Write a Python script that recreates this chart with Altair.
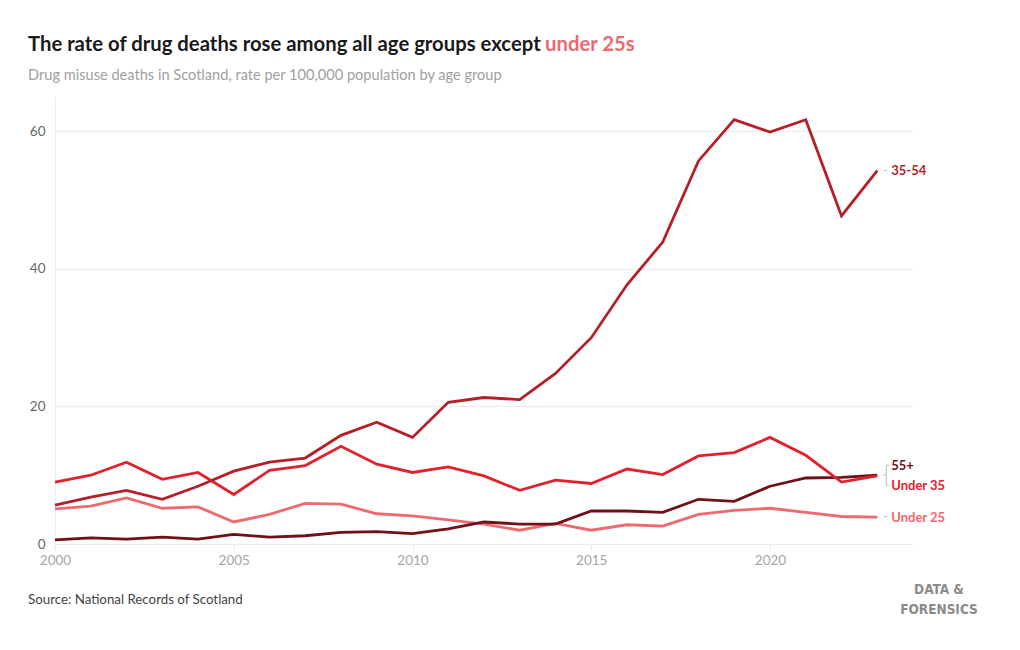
import altair as alt
import pandas as pd

years = list(range(2000, 2024))
age_35_54 = [5.65, 6.8, 7.8, 6.5, 8.4, 10.6, 11.9, 12.5, 15.8, 17.7, 15.5, 20.6,
             21.3, 21.0, 24.8, 30.0, 37.7, 43.9, 55.7, 61.7, 59.9, 61.7, 47.7, 54.3]
under_35 = [9.0, 10.0, 11.9, 9.4, 10.4, 7.2, 10.7, 11.4, 14.2, 11.6, 10.4, 11.2,
            9.9, 7.8, 9.3, 8.8, 10.9, 10.1, 12.8, 13.3, 15.5, 12.9, 9.0, 9.9]
under_25 = [5.1, 5.5, 6.7, 5.2, 5.4, 3.2, 4.3, 5.9, 5.8, 4.4, 4.1, 3.5,
            2.9, 2.0, 3.0, 2.0, 2.8, 2.6, 4.3, 4.9, 5.2, 4.6, 4.0, 3.9]
age_55_plus = [0.6, 0.9, 0.7, 1.0, 0.7, 1.4, 1.0, 1.2, 1.7, 1.8, 1.5, 2.2,
               3.2, 2.9, 2.9, 4.8, 4.8, 4.6, 6.5, 6.2, 8.4, 9.6, 9.7, 10.0]

series_names = ["Under 25", "55+", "Under 35", "35-54"]
series_colors = ["#ec6a70", "#6e1118", "#e0222e", "#b41f2a"]
label_dy = [1, -9, 10, 0]

rows = []
for name, vals in zip(series_names, [under_25, age_55_plus, under_35, age_35_54]):
    for y, v in zip(years, vals):
        rows.append({"year": y, "value": v, "group": name})
df = pd.DataFrame(rows)

W, H = 858, 447
FONT = "Lato"

x_scale = alt.Scale(domain=[2000, 2024], nice=False)
y_scale = alt.Scale(domain=[0, 65], nice=False)
color_scale = alt.Scale(domain=series_names, range=series_colors)

lines = alt.Chart(df).mark_line(strokeWidth=2.8, strokeJoin="miter").encode(
    x=alt.X("year:Q", scale=x_scale,
            axis=alt.Axis(values=[2000, 2005, 2010, 2015, 2020], format="d",
                          title=None, grid=False, domain=False, ticks=True,
                          tickColor="#e6e6e6", tickSize=6, labelColor="#a6a6a6",
                          labelFont=FONT, labelFontSize=13.5, labelPadding=3,
                          labelFlush=False)),
    y=alt.Y("value:Q", scale=y_scale,
            axis=alt.Axis(values=[0, 20, 40, 60], title=None, grid=True,
                          gridColor="#ececec", domain=True, domainColor="#ececec",
                          ticks=False, labelColor="#666666", labelFont=FONT,
                          labelFontSize=13.5, labelPadding=10)),
    color=alt.Color("group:N", scale=color_scale, legend=None),
    order=alt.Order("group:N"),
)

last = df[df["year"] == 2023]

dash_layers = []
label_layers = []
for name, col, dy in zip(series_names, series_colors, label_dy):
    d = last[last["group"] == name]
    label_layers.append(
        alt.Chart(d).mark_text(align="left", baseline="middle", dx=14, dy=dy,
                               font=FONT, fontSize=13, fontWeight="bold",
                               color=col).encode(
            x=alt.X("year:Q", scale=x_scale), y=alt.Y("value:Q", scale=y_scale),
            text="group:N")
    )
    if name in ("Under 25", "35-54"):
        dash_layers.append(
            alt.Chart(d).mark_text(align="left", baseline="middle", dx=6,
                                   font=FONT, fontSize=11, color="#aaaaaa",
                                   text="-").encode(
                x=alt.X("year:Q", scale=x_scale), y=alt.Y("value:Q", scale=y_scale))
        )

# bracket for the overlapping 55+ / Under 35 labels
bx = (2023 - 2000) / 24 * W + 9
yv = H - 10.0 / 65 * H
one = pd.DataFrame({"k": [0]})
bracket = alt.Chart(one).mark_rule(color="#bbbbbb", strokeWidth=1).encode(
    x=alt.value(bx), y=alt.value(yv - 10), y2=alt.value(yv + 10))
bracket_top = alt.Chart(one).mark_rule(color="#bbbbbb", strokeWidth=1).encode(
    x=alt.value(bx), x2=alt.value(bx + 3), y=alt.value(yv - 10))
bracket_bot = alt.Chart(one).mark_rule(color="#bbbbbb", strokeWidth=1).encode(
    x=alt.value(bx), x2=alt.value(bx + 3), y=alt.value(yv + 10))
bracket_mid = alt.Chart(one).mark_rule(color="#bbbbbb", strokeWidth=1).encode(
    x=alt.value(bx - 3), x2=alt.value(bx), y=alt.value(yv))

title_a = alt.Chart(one).mark_text(
    align="left", baseline="alphabetic", font=FONT, fontSize=20.3, fontWeight="bold",
    color="#1a1a1a", text="The rate of drug deaths rose among all age groups except"
).encode(x=alt.value(-27), y=alt.value(-46))
title_b = alt.Chart(one).mark_text(
    align="left", baseline="alphabetic", font=FONT, fontSize=20.3, fontWeight="bold",
    color="#ec6a70", text="under 25s"
).encode(x=alt.value(490), y=alt.value(-46))
subtitle = alt.Chart(one).mark_text(
    align="left", baseline="alphabetic", font=FONT, fontSize=14.6,
    color="#a0a0a0", text="Drug misuse deaths in Scotland, rate per 100,000 population by age group"
).encode(x=alt.value(-27), y=alt.value(-17))
source = alt.Chart(one).mark_text(
    align="left", baseline="alphabetic", font=FONT, fontSize=13.3,
    color="#444444", text="Source: National Records of Scotland"
).encode(x=alt.value(-27), y=alt.value(507))
LOGO_FONT = "DejaVu Sans Condensed"
logo1 = alt.Chart(one).mark_text(
    align="center", baseline="alphabetic", font=LOGO_FONT, fontSize=13.5,
    fontWeight="bold", color="#8a8a8a", text="DATA &"
).encode(x=alt.value(884), y=alt.value(497))
logo2 = alt.Chart(one).mark_text(
    align="center", baseline="alphabetic", font=LOGO_FONT, fontSize=13.5,
    fontWeight="bold", color="#8a8a8a", text="FORENSICS"
).encode(x=alt.value(884), y=alt.value(517))

chart = alt.layer(
    lines, *dash_layers, *label_layers, bracket, bracket_top, bracket_bot, bracket_mid,
    title_a, title_b, subtitle, source, logo1, logo2
).properties(
    width=W, height=H,
    autosize=alt.AutoSizeParams(type="none"),
    padding={"left": 47, "top": 89, "right": 91, "bottom": 90},
).configure(background="white").configure_view(stroke=None)

chart.save("out.html", embed_options={"renderer": "svg", "actions": False})
